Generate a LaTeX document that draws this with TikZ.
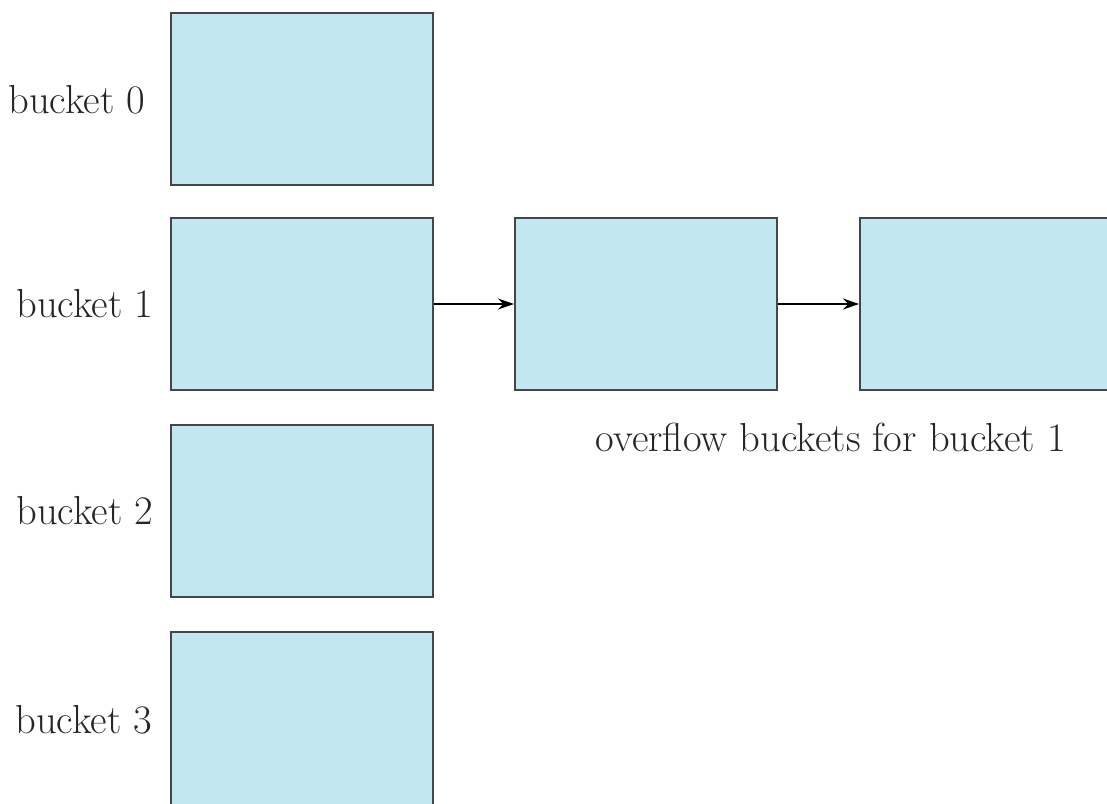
\documentclass[tikz,border=0pt]{standalone}
\usetikzlibrary{arrows.meta}
\definecolor{bucketfill}{RGB}{194,231,241}
\definecolor{bucketline}{RGB}{70,70,70}
\tikzset{
  bucketbox/.style={draw=bucketline, fill=bucketfill, line width=2pt, minimum width=262pt, minimum height=172pt, inner sep=0pt},
  lbl/.style={font=\fontsize{40.5}{46}\selectfont, text=black!85, inner sep=0pt},
  link/.style={line width=1.5pt, -{Stealth[length=16pt,width=11pt]}}
}
\begin{document}
\begin{tikzpicture}[x=1pt,y=-1pt]
\useasboundingbox (0,0) rectangle (1107,803);
\clip (0,0) rectangle (1107,803);
\node[bucketbox] (b0) at (302,99) {};
\node[bucketbox] (b1) at (302,304) {};
\node[bucketbox] (b2) at (302,510.5) {};
\node[bucketbox, minimum height=190pt] (b3) at (302,727) {};
\node[bucketbox] (o1) at (646,304) {};
\node[bucketbox, minimum width=300pt] (o2) at (1010,304) {};
\node[lbl] (l0) at (77,100) {bucket 0};
\node[lbl] (l1) at (85,304) {bucket 1};
\node[lbl] (l2) at (85,511) {bucket 2};
\node[lbl] (l3) at (84,720) {bucket 3};
\node[lbl] (lo) at (831,437) {overflow buckets for bucket 1};
\draw[link] (b1.east) -- (o1.west);
\draw[link] (o1.east) -- (o2.west);
\end{tikzpicture}
\end{document}
